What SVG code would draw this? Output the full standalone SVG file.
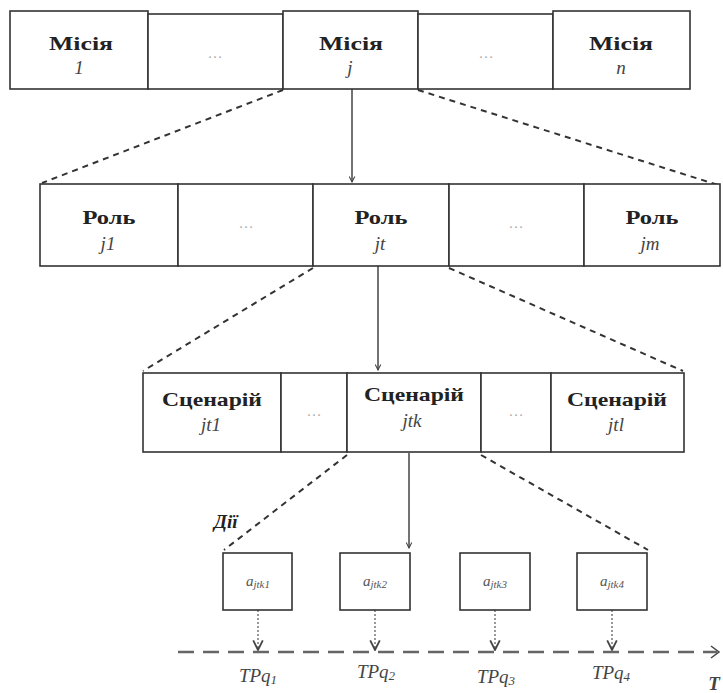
<svg xmlns="http://www.w3.org/2000/svg" width="723" height="693" viewBox="0 0 723 693">
<defs>
<style>
.box{fill:#fff;stroke:#333;stroke-width:1.6}
.t{font-family:"Liberation Serif","Times New Roman","DejaVu Serif",serif;font-size:19px;font-weight:bold;fill:#222;text-anchor:middle}
.i{font-family:"Liberation Serif","Times New Roman",serif;font-size:19px;font-style:italic;fill:#444;text-anchor:middle}
.d{font-family:"Liberation Serif","Times New Roman",serif;font-size:15px;fill:#aaa;text-anchor:middle}
.a{font-family:"Liberation Serif","Times New Roman",serif;font-size:15px;font-style:italic;fill:#555;text-anchor:middle}
.tp{font-family:"Liberation Serif","Times New Roman",serif;font-size:19px;font-style:italic;fill:#444;text-anchor:middle}
.solid{stroke:#444;stroke-width:1.5;fill:none}
.dash{stroke:#333;stroke-width:2;stroke-dasharray:6,5;fill:none}
.dot{stroke:#555;stroke-width:1.2;stroke-dasharray:2,2;fill:none}
.axis{stroke:#666;stroke-width:2.5;stroke-dasharray:16,9;fill:none}
</style>
<marker id="ar" viewBox="0 0 10 10" refX="9" refY="5" markerWidth="7" markerHeight="7" orient="auto" markerUnits="userSpaceOnUse">
<path d="M1,1 L9,5 L1,9" fill="none" stroke="#444" stroke-width="1.5"/>
</marker>
<marker id="ar2" viewBox="0 0 10 10" refX="9" refY="5" markerWidth="12" markerHeight="12" orient="auto" markerUnits="userSpaceOnUse">
<path d="M1,1 L9,5 L1,9" fill="none" stroke="#444" stroke-width="1.5"/>
</marker>
</defs>

<g id="connectors">
<line class="solid" x1="352" y1="89" x2="352" y2="182" marker-end="url(#ar)"/>
<line class="dash" x1="283" y1="90" x2="42" y2="183"/>
<line class="dash" x1="418" y1="90" x2="718" y2="185"/>
<line class="solid" x1="378" y1="266" x2="378" y2="370" marker-end="url(#ar)"/>
<line class="dash" x1="313" y1="268" x2="143" y2="371"/>
<line class="dash" x1="449" y1="268" x2="683" y2="371"/>
<line class="solid" x1="409" y1="453" x2="409" y2="548" marker-end="url(#ar)"/>
<line class="dash" x1="347" y1="455" x2="224" y2="550"/>
<line class="dash" x1="481" y1="455" x2="648" y2="550"/>
<line class="dot" x1="258" y1="610" x2="258" y2="650" marker-end="url(#ar2)"/>
<line class="dot" x1="375" y1="610" x2="375" y2="650" marker-end="url(#ar2)"/>
<line class="dot" x1="495" y1="610" x2="495" y2="650" marker-end="url(#ar2)"/>
<line class="dot" x1="612" y1="610" x2="612" y2="650" marker-end="url(#ar2)"/>
<line class="axis" x1="178" y1="652" x2="717" y2="652"/>
<path d="M711,646 L719,652 L711,658" fill="none" stroke="#444" stroke-width="1.5"/>
</g>

<g id="mission-row">
<g id="m1"><rect class="box" x="10" y="11" width="138" height="78"/><text class="t" x="81" y="50" textLength="64" lengthAdjust="spacingAndGlyphs">Місія</text><text class="i" x="79" y="74">1</text></g>
<g id="m-dots1"><rect class="box" x="148" y="14" width="135" height="75"/><text class="d" x="215" y="58">…</text></g>
<g id="mj"><rect class="box" x="283" y="11" width="135" height="78"/><text class="t" x="351" y="50" textLength="64" lengthAdjust="spacingAndGlyphs">Місія</text><text class="i" x="350" y="74">j</text></g>
<g id="m-dots2"><rect class="box" x="418" y="14" width="135" height="75"/><text class="d" x="486" y="58">…</text></g>
<g id="mn"><rect class="box" x="553" y="11" width="137" height="78"/><text class="t" x="621" y="50" textLength="64" lengthAdjust="spacingAndGlyphs">Місія</text><text class="i" x="621" y="74">n</text></g>
</g>

<g id="role-row">
<g id="r1"><rect class="box" x="40" y="184" width="138" height="82"/><text class="t" x="109" y="224" textLength="53" lengthAdjust="spacingAndGlyphs">Роль</text><text class="i" x="108" y="250">j1</text></g>
<g id="r-dots1"><rect class="box" x="178" y="184" width="135" height="82"/><text class="d" x="246" y="228">…</text></g>
<g id="rt"><rect class="box" x="313" y="184" width="136" height="82"/><text class="t" x="381" y="224" textLength="53" lengthAdjust="spacingAndGlyphs">Роль</text><text class="i" x="380" y="250">jt</text></g>
<g id="r-dots2"><rect class="box" x="449" y="184" width="135" height="82"/><text class="d" x="516" y="228">…</text></g>
<g id="rm"><rect class="box" x="584" y="184" width="136" height="82"/><text class="t" x="652" y="224" textLength="53" lengthAdjust="spacingAndGlyphs">Роль</text><text class="i" x="650" y="250">jm</text></g>
</g>

<g id="scenario-row">
<g id="s1"><rect class="box" x="143" y="373" width="138" height="79"/><text class="t" x="212" y="406" textLength="100" lengthAdjust="spacingAndGlyphs">Сценарій</text><text class="i" x="211" y="431">jt1</text></g>
<g id="s-dots1"><rect class="box" x="281" y="373" width="66" height="79"/><text class="d" x="314" y="416">…</text></g>
<g id="sk"><rect class="box" x="347" y="373" width="134" height="79"/><text class="t" x="414" y="401" textLength="100" lengthAdjust="spacingAndGlyphs">Сценарій</text><text class="i" x="412" y="427">jtk</text></g>
<g id="s-dots2"><rect class="box" x="481" y="373" width="70" height="79"/><text class="d" x="516" y="416">…</text></g>
<g id="sl"><rect class="box" x="551" y="373" width="133" height="79"/><text class="t" x="617" y="406" textLength="100" lengthAdjust="spacingAndGlyphs">Сценарій</text><text class="i" x="616" y="431">jtl</text></g>
</g>

<g id="actions-label"><text x="214" y="528" font-family="Liberation Serif, Times New Roman, serif" font-size="19" font-weight="bold" font-style="italic" fill="#222">Дії</text></g>

<g id="a1"><rect class="box" x="223" y="553" width="69" height="57"/><text class="a" x="258" y="586">a<tspan font-size="11" dy="2">jtk1</tspan></text></g>
<g id="a2"><rect class="box" x="340" y="553" width="70" height="57"/><text class="a" x="375" y="586">a<tspan font-size="11" dy="2">jtk2</tspan></text></g>
<g id="a3"><rect class="box" x="460" y="553" width="70" height="57"/><text class="a" x="495" y="586">a<tspan font-size="11" dy="2">jtk3</tspan></text></g>
<g id="a4"><rect class="box" x="577" y="553" width="70" height="57"/><text class="a" x="612" y="586">a<tspan font-size="11" dy="2">jtk4</tspan></text></g>

<g id="timepoints">
<text class="tp" x="258" y="682">TPq<tspan font-size="13" dy="2">1</tspan></text>
<text class="tp" x="376" y="678">TPq<tspan font-size="13" dy="2">2</tspan></text>
<text class="tp" x="496" y="683">TPq<tspan font-size="13" dy="2">3</tspan></text>
<text class="tp" x="611" y="679">TPq<tspan font-size="13" dy="2">4</tspan></text>
<text class="tp" x="714" y="690" font-weight="bold">T</text>
</g>
</svg>
